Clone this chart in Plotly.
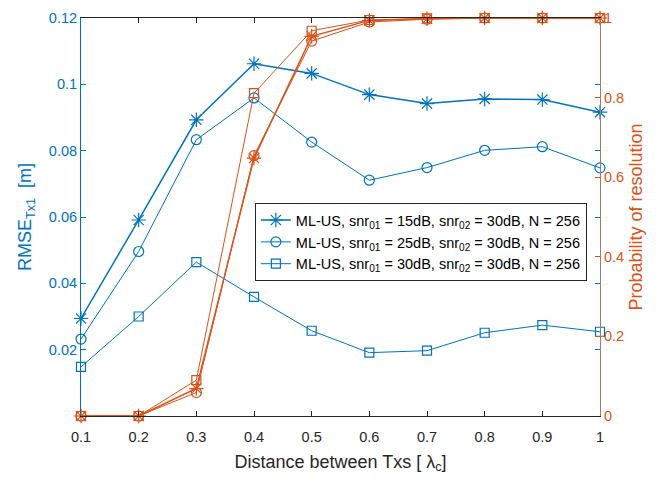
import plotly.graph_objects as go

distance = [0.1, 0.2, 0.3, 0.4, 0.5, 0.6, 0.7, 0.8, 0.9, 1.0]

rmse_snr15 = [0.0294, 0.0591, 0.0893, 0.1062, 0.1033, 0.0969, 0.0942, 0.0956, 0.0954, 0.0916]
rmse_snr25 = [0.0232, 0.0496, 0.0833, 0.0959, 0.0826, 0.0711, 0.0749, 0.0801, 0.0812, 0.0748]
rmse_snr30 = [0.0148, 0.0300, 0.0464, 0.0359, 0.0257, 0.0191, 0.0197, 0.0251, 0.0274, 0.0254]

prob_snr15 = [0.0, 0.0, 0.069, 0.648, 0.954, 0.994, 0.998, 1.0, 1.0, 1.0]
prob_snr25 = [0.0, 0.0, 0.059, 0.654, 0.942, 0.990, 0.997, 1.0, 1.0, 1.0]
prob_snr30 = [0.0, 0.0, 0.090, 0.811, 0.968, 0.995, 0.999, 1.0, 1.0, 1.0]

legend_names = [
    "ML-US, snr<sub>01</sub> = 15dB, snr<sub>02</sub> = 30dB, N = 256",
    "ML-US, snr<sub>01</sub> = 25dB, snr<sub>02</sub> = 30dB, N = 256",
    "ML-US, snr<sub>01</sub> = 30dB, snr<sub>02</sub> = 30dB, N = 256",
]

x_ticks = [0.1, 0.2, 0.3, 0.4, 0.5, 0.6, 0.7, 0.8, 0.9, 1.0]
x_ticktext = ["0.1", "0.2", "0.3", "0.4", "0.5", "0.6", "0.7", "0.8", "0.9", "1"]
y1_ticks = [0.02, 0.04, 0.06, 0.08, 0.1, 0.12]
y1_ticktext = ["0.02", "0.04", "0.06", "0.08", "0.1", "0.12"]
y2_ticks = [0, 0.2, 0.4, 0.6, 0.8, 1.0]
y2_ticktext = ["0", "0.2", "0.4", "0.6", "0.8", "1"]

BLUE = "#0072BD"
ORANGE = "#D95319"
FONT = "Liberation Sans, Arial, sans-serif"

fig = go.Figure()

symbols = ["asterisk-open", "circle-open", "square-open"]
sizes = [12, 10, 9]
widths = [1.5, 1.0, 1.0]
rmse_all = [rmse_snr15, rmse_snr25, rmse_snr30]
prob_all = [prob_snr15, prob_snr25, prob_snr30]

for p, sym, sz, w in zip(prob_all, symbols, sizes, widths):
    fig.add_trace(go.Scatter(
        x=distance, y=p, yaxis="y2", mode="lines+markers",
        line=dict(color=ORANGE, width=w),
        marker=dict(symbol=sym, size=sz, color=ORANGE, line=dict(color=ORANGE, width=1.2)),
        showlegend=False, cliponaxis=False,
    ))

for r, sym, sz, w, name in zip(rmse_all, symbols, sizes, widths, legend_names):
    fig.add_trace(go.Scatter(
        x=distance, y=r, mode="lines+markers", name=name,
        line=dict(color=BLUE, width=w),
        marker=dict(symbol=sym, size=sz, color=BLUE, line=dict(color=BLUE, width=1.2)),
        cliponaxis=False,
    ))

fig.update_layout(
    width=668, height=478,
    margin=dict(l=81, r=68, t=10, b=60),
    paper_bgcolor="white", plot_bgcolor="white",
    font=dict(family=FONT, size=14, color="#262626"),
    xaxis=dict(
        range=[0.1, 1.0], tickvals=x_ticks, ticktext=x_ticktext,
        showline=True, linecolor="#262626", linewidth=1, mirror="ticks",
        ticks="inside", ticklen=5, tickcolor="#262626",
        showgrid=False, zeroline=False, ticklabelstandoff=8,
        title=dict(text="Distance between Txs [ λ<sub>c</sub>]", font=dict(size=18, color="#262626"), standoff=10),
        tickfont=dict(size=14.5, color="#262626"),
    ),
    yaxis=dict(
        range=[0, 0.12], tickvals=y1_ticks, ticktext=y1_ticktext,
        showline=True, linecolor=BLUE, linewidth=1, mirror="ticks",
        ticks="inside", ticklen=5, tickcolor=BLUE, ticklabeloverflow="allow",
        showgrid=False, zeroline=False,
        title=dict(text="RMSE<sub>Tx1</sub>  [m]", font=dict(size=18, color=BLUE), standoff=12),
        tickfont=dict(size=14.5, color=BLUE),
    ),
    yaxis2=dict(
        range=[0, 1], tickvals=y2_ticks, ticktext=y2_ticktext,
        overlaying="y", side="right",
        showline=True, linecolor="#A57766", linewidth=1,
        ticks="inside", ticklen=5, tickcolor=ORANGE, ticklabeloverflow="allow",
        showgrid=False, zeroline=False,
        title=dict(text="Probability of resolution", font=dict(size=18, color=ORANGE), standoff=6),
        tickfont=dict(size=14.5, color=ORANGE),
    ),
    legend=dict(
        x=0.335, y=0.535, xanchor="left", yanchor="top",
        bgcolor="white", bordercolor="#262626", borderwidth=1,
        font=dict(size=14.5, color="#000000"),
        tracegroupgap=0,
    ),
)

fig.write_html("out.html", config={"displayModeBar": False},
               post_script="document.body.style.margin='0';")
